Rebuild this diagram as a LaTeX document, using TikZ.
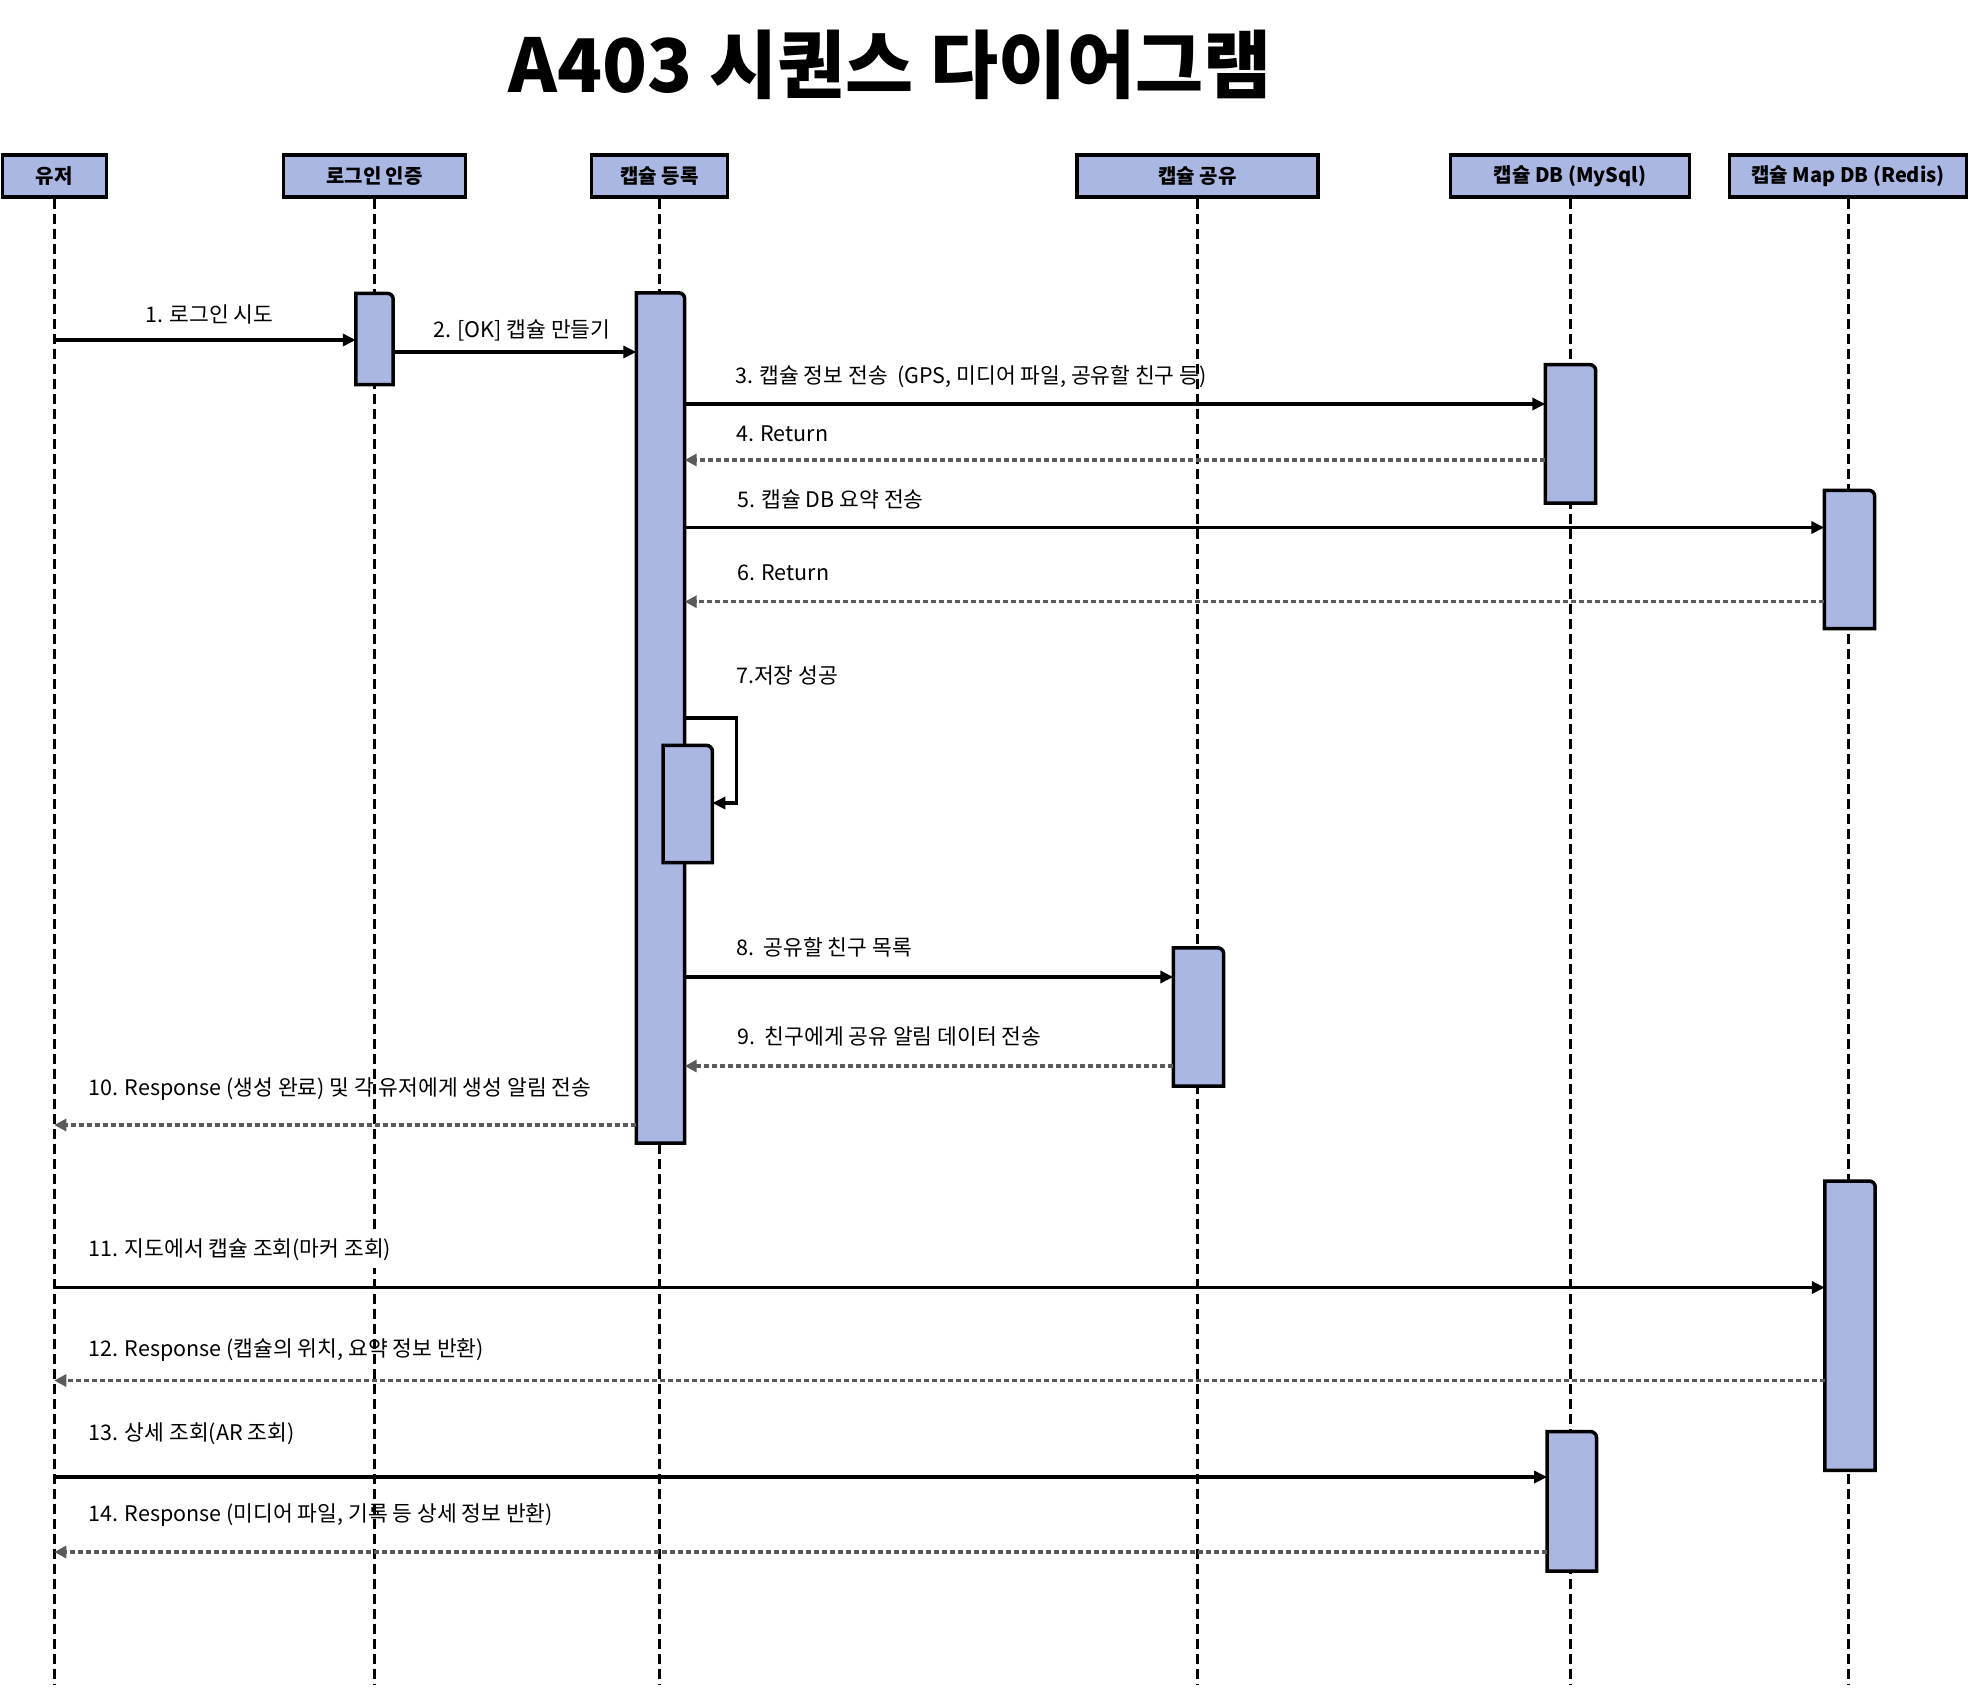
\documentclass[tikz,border=0pt]{standalone}
\usepackage{fontspec}
\setmainfont{Noto Sans CJK KR}
\usetikzlibrary{arrows.meta,calc}
\definecolor{actfill}{RGB}{171,183,227}
\definecolor{retgray}{RGB}{90,90,90}
\newcommand\actbar[5]{%
  \node[actnode, minimum width=#4pt, minimum height=#5pt] (#1) at (#2,#3) {};
  \filldraw[actshape] (#1.south west) -- (#1.north west) -- ([xshift=-6pt]#1.north east)
    arc[start angle=90,end angle=0,radius=6pt] -- (#1.south east) -- cycle;}
\begin{document}
\begin{tikzpicture}[x=1pt,y=-1pt,
  header/.style={draw=black, line width=3.5pt, fill=actfill, font=\bfseries\fontsize{20}{24}\selectfont, inner sep=0pt, minimum height=42pt},
  lifeline/.style={line width=3pt, dash pattern=on 10pt off 5pt},
  actnode/.style={inner sep=0pt, draw=none},
  actshape/.style={draw=black, fill=actfill, line width=3.5pt, line join=miter},
  msg/.style={line width=3.5pt, -{Triangle[length=13pt,width=12pt]}},
  ret/.style={line width=3.5pt, draw=retgray, dash pattern=on 5pt off 3pt, -{Triangle[length=12pt,width=12pt,fill=retgray]}},
  lbl/.style={anchor=base west, inner sep=0pt, font=\fontsize{21.5}{25}\selectfont}]
\useasboundingbox (0,0) rectangle (1969,1690);

% title
\node[font=\bfseries\fontsize{74}{88}\selectfont, anchor=base, inner sep=0pt] (title) at (890,92) {A403 시퀀스 다이어그램};

% headers
\node[header, minimum width=104pt] (h1) at (54.3,175.8) {유저};
\node[header, minimum width=182pt] (h2) at (374.5,175.8) {로그인 인증};
\node[header, minimum width=136pt] (h3) at (659.5,175.8) {캡슐 등록};
\node[header, minimum width=241pt] (h4) at (1197.5,175.8) {캡슐 공유};
\node[header, minimum width=239pt] (h5) at (1570,175.8) {캡슐 DB (MySql)};
\node[header, minimum width=237pt] (h6) at (1848,175.8) {캡슐 Map DB (Redis)};

% lifelines
\coordinate (lend) at (0,1685);
\foreach \h in {h1,h2,h3,h4,h5,h6}{
  \draw[lifeline] (\h.south) -- (\h.south |- lend);
}

% activation bars
\actbar{al}{374.5}{339}{37}{91}
\actbar{big}{660.5}{718}{48}{850}
\actbar{self}{687.7}{804}{49}{117}
\actbar{share}{1198.5}{1017}{50}{138}
\actbar{db1}{1570.5}{433.8}{50}{138}
\actbar{map1}{1849.5}{559.5}{50}{138}
\actbar{map2}{1850}{1325.7}{50}{289}
\actbar{db2}{1571.8}{1501.3}{49}{139}

% message levels
\coordinate (m1) at (0,340);
\coordinate (m2) at (0,352);
\coordinate (m3) at (0,404);
\coordinate (m4) at (0,460);
\coordinate (m5) at (0,527.5);
\coordinate (m6) at (0,601.7);
\coordinate (m7a) at (0,718);
\coordinate (m7b) at (0,803);
\coordinate (m8) at (0,977);
\coordinate (m9) at (0,1066);
\coordinate (m10) at (0,1125);
\coordinate (m11) at (0,1287.5);
\coordinate (m12) at (0,1380.5);
\coordinate (m13) at (0,1477);
\coordinate (m14) at (0,1552);

% messages
\draw[msg] (h1 |- m1) -- (al.west |- m1);
\draw[msg] (al.east |- m2) -- (big.west |- m2);
\draw[msg] (big.east |- m3) -- (db1.west |- m3);
\draw[ret] (db1.west |- m4) -- (big.east |- m4);
\draw[msg] (big.east |- m5) -- (map1.west |- m5);
\draw[ret] (map1.west |- m6) -- (big.east |- m6);
\draw[msg] (big.east |- m7a) -- ++(52,0) |- (self.east |- m7b);
\draw[msg] (big.east |- m8) -- (share.west |- m8);
\draw[ret] (share.west |- m9) -- (big.east |- m9);
\draw[ret] (big.west |- m10) -- (h1 |- m10);
\draw[msg] (h1 |- m11) -- (map2.west |- m11);
\draw[ret] (map2.west |- m12) -- (h1 |- m12);
\draw[msg] (h1 |- m13) -- (db2.west |- m13);
\draw[ret] (db2.west |- m14) -- (h1 |- m14);

% labels
\node[lbl] (l1) at (145,322.7) {1. 로그인 시도};
\node[lbl] (l2) at (433,337) {2. [OK] 캡슐 만들기};
\node[lbl] (l3) at (735,383) {3. 캡슐 정보 전송\ \ (GPS, 미디어 파일, 공유할 친구 등)};
\node[lbl] (l4) at (736,441.7) {4. Return};
\node[lbl] (l5) at (737,507.7) {5. 캡슐 DB 요약 전송};
\node[lbl] (l6) at (737,580) {6. Return};
\node[lbl] (l7) at (736,683) {7.저장 성공};
\node[lbl] (l8) at (736,955) {8.\ \ 공유할 친구 목록};
\node[lbl] (l9) at (737,1044) {9.\ \ 친구에게 공유 알림 데이터 전송};
\node[lbl] (l10) at (88.4,1095) {10. Response (생성 완료) 및 각 유저에게 생성 알림 전송};
\node[lbl, fill=white, inner ysep=7pt] (l11) at (88.4,1256.7) {11. 지도에서 캡슐 조회(마커 조회)};
\node[lbl] (l12) at (88.4,1356.7) {12. Response (캡슐의 위치, 요약 정보 반환)};
\node[lbl] (l13) at (88.4,1440.7) {13. 상세 조회(AR 조회)};
\node[lbl] (l14) at (88.4,1521.7) {14. Response (미디어 파일, 기록 등 상세 정보 반환)};
\end{tikzpicture}
\end{document}
